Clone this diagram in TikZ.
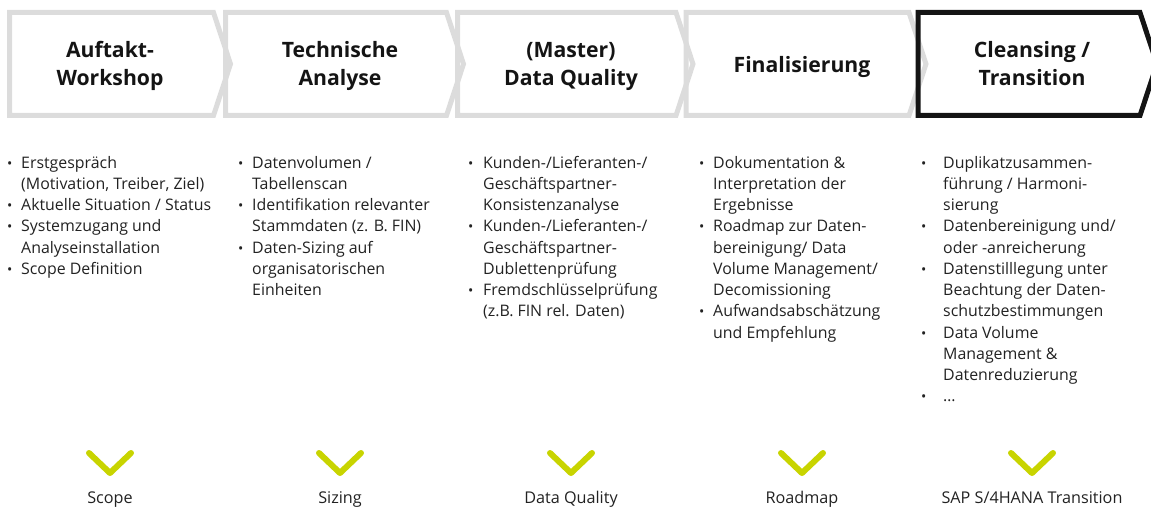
\documentclass[tikz,border=0pt]{standalone}
\usepackage{fontspec}
\setmainfont{Open Sans}
\definecolor{chevgray}{HTML}{DCDCDC}
\definecolor{chevdark}{HTML}{141414}
\definecolor{vgreen}{HTML}{C8D400}
\definecolor{txt}{HTML}{222222}
\newcommand{\bl}[1]{\llap{\makebox[#1][l]{\raisebox{0pt}{\fontsize{14}{12}\selectfont •}}}}
\tikzset{
  chev/.style={line width=5pt, draw=chevgray, line join=miter},
  chevactive/.style={line width=5pt, draw=chevdark, line join=miter},
  head/.style={font=\fontsize{21.2}{28.7}\selectfont\bfseries, align=center, anchor=north, inner sep=0pt, text=chevdark},
  body/.style={font=\fontsize{15.9}{21.25}\selectfont, align=left, anchor=north west, inner sep=0pt, text=txt},
  lab/.style={font=\fontsize{16.2}{18}\selectfont, anchor=base, inner sep=0pt, text=txt},
  vmark/.style={line width=6pt, draw=vgreen, line cap=round, line join=round},
}
\begin{document}
\begin{tikzpicture}[x=1pt,y=-1pt]
\useasboundingbox (0,0) rectangle (1151,508);
% chevrons
\draw[chev] (9.5,12.5) -- (213.5,12.5) -- (230.5,64) -- (213.5,115.5) -- (9.5,115.5) -- cycle;
\draw[chev] (225.5,12.5) -- (446.5,12.5) -- (463.5,64) -- (446.5,115.5) -- (225.5,115.5) -- cycle;
\draw[chev] (457.5,12.5) -- (676,12.5) -- (693,64) -- (676,115.5) -- (457.5,115.5) -- cycle;
\draw[chev] (686,12.5) -- (909,12.5) -- (926,64) -- (909,115.5) -- (686,115.5) -- cycle;
\draw[chevactive] (918,12.5) -- (1140,12.5) -- (1157,64) -- (1140,115.5) -- (918,115.5) -- cycle;
% headers
\node[head] (h1) at (110,36.9) {\strut Auftakt-\\Workshop};
\node[head] (h2) at (340,36.9) {\strut Technische\\Analyse};
\node[head] (h3) at (571,36.9) {\strut (Master)\\Data Quality};
\node[head] (h4) at (802,51.9) {\strut Finalisierung};
\node[head] (h5) at (1032,36.9) {\strut Cleansing /\\Transition};
% body columns
\node[body] (c1) at (21,153.1) {\strut\bl{14pt}Erstgespräch\\(Motivation, Treiber, Ziel)\\\bl{14pt}Aktuelle Situation / Status\\\bl{14pt}Systemzugang und\\Analyseinstallation\\\bl{14pt}Scope Definition};
\node[body] (c2) at (252,153.1) {\strut\bl{14pt}Datenvolumen /\\Tabellenscan\\\bl{14pt}Identifikation relevanter\\Stammdaten (z. B. FIN)\\\bl{14pt}Daten-Sizing auf\\organisatorischen\\Einheiten};
\node[body] (c3) at (483,153.1) {\strut\bl{15pt}Kunden-/Lieferanten-/\\Geschäftspartner-\\Konsistenzanalyse\\\bl{15pt}Kunden-/Lieferanten-/\\Geschäftspartner-\\Dublettenprüfung\\\bl{15pt}Fremdschlüsselprüfung\\(z.B. FIN rel. Daten)};
\node[body] (c4) at (713,153.1) {\strut\bl{14pt}Dokumentation \&\\Interpretation der\\Ergebnisse\\\bl{14pt}Roadmap zur Daten-\\bereinigung/ Data\\Volume Management/\\Decomissioning\\\bl{14pt}Aufwandsabschätzung\\und Empfehlung};
\node[body] (c5) at (943,153.1) {\strut\bl{22pt}Duplikatzusammen-\\führung / Harmoni-\\sierung\\\bl{22pt}Datenbereinigung und/\\oder -anreicherung\\\bl{22pt}Datenstilllegung unter\\Beachtung der Daten-\\schutzbestimmungen\\\bl{22pt}Data Volume\\Management \&\\Datenreduzierung\\\bl{22pt}…};
% result marks
\draw[vmark] (89,453) -- (110,473) -- (131,453);
\draw[vmark] (319,453) -- (340,473) -- (361,453);
\draw[vmark] (550,453) -- (571,473) -- (592,453);
\draw[vmark] (781,453) -- (802,473) -- (823,453);
\draw[vmark] (1011,453) -- (1032,473) -- (1053,453);
% result labels
\node[lab] (r1) at (110,503) {Scope};
\node[lab] (r2) at (340,503) {Sizing};
\node[lab] (r3) at (571,503) {Data Quality};
\node[lab] (r4) at (802,503) {Roadmap};
\node[lab] (r5) at (1032,503) {SAP S/4HANA Transition};
\end{tikzpicture}
\end{document}
